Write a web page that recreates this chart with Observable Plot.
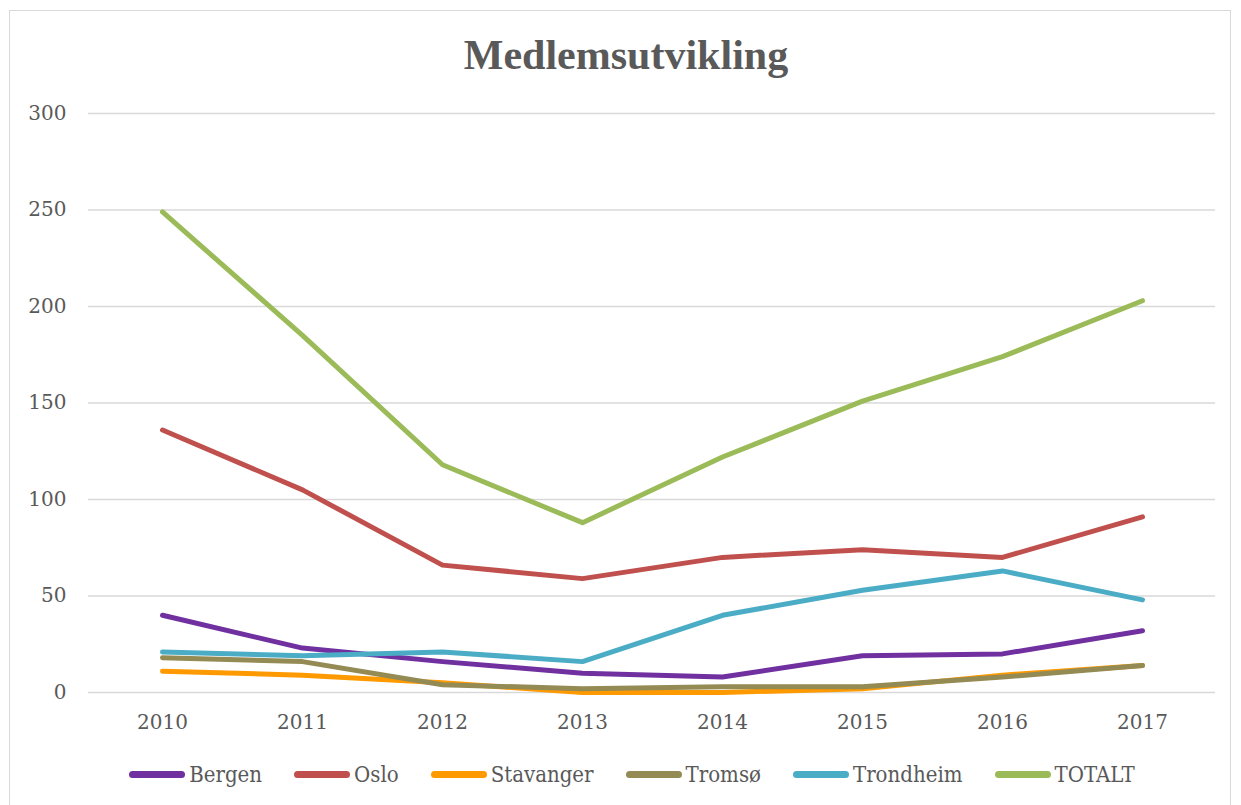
<!DOCTYPE html>
<html>
<head>
<meta charset="utf-8">
<script src="https://cdn.jsdelivr.net/npm/d3@7"></script>
<script src="https://cdn.jsdelivr.net/npm/@observablehq/plot@0.6"></script>
<style>
  html, body { margin: 0; padding: 0; background: #fff; }
  #frame {
    position: absolute; left: 9px; top: 10px; width: 1222px; height: 800px;
    border: 1.5px solid #d9d9d9; box-sizing: border-box; background: #fff;
  }
  #title {
    position: absolute; left: 0; top: 31px; width: 1252px; text-align: center;
    font-family: "Liberation Serif", serif; font-weight: bold; font-size: 42px; color: #595959;
  }
  #chart { position: absolute; left: 0; top: 100px; }
  #legend {
    position: absolute; left: 0; top: 762px; width: 1264px;
    display: flex; justify-content: center; gap: 32px;
    font-family: "DejaVu Serif Condensed", "DejaVu Serif", serif; font-stretch: condensed; font-size: 22px; color: #595959;
  }
  .item { display: flex; align-items: center; gap: 4px; }
  .sw { width: 56px; height: 7px; border-radius: 3.5px; }
</style>
</head>
<body>
<div id="frame"></div>
<div id="title">Medlemsutvikling</div>
<div id="chart"></div>
<div id="legend"></div>
<script>
const years = [2010, 2011, 2012, 2013, 2014, 2015, 2016, 2017];
const seriesNames = ["Bergen", "Oslo", "Stavanger", "Tromsø", "Trondheim", "TOTALT"];
const colors = ["#7030a0", "#c0504d", "#ff9900", "#948a54", "#4bacc6", "#9bbb59"];
const bergen    = [40, 23, 16, 10, 8, 19, 20, 32];
const oslo      = [136, 105, 66, 59, 70, 74, 70, 91];
const stavanger = [11, 9, 5, 0, 0, 2, 9, 14];
const tromso    = [18, 16, 4, 2, 3, 3, 8, 14];
const trondheim = [21, 19, 21, 16, 40, 53, 63, 48];
const totalt    = [249, 185, 118, 88, 122, 151, 174, 203];
const yTicks = [0, 50, 100, 150, 200, 250, 300];

const seriesValues = [bergen, oslo, stavanger, tromso, trondheim, totalt];
const data = [];
seriesNames.forEach((name, i) => {
  years.forEach((yr, j) => data.push({series: name, year: String(yr), value: seriesValues[i][j]}));
});

const chart = Plot.plot({
  width: 1241,
  height: 650,
  marginTop: 13,
  marginBottom: 58,
  marginLeft: 88,
  marginRight: 26,
  style: {fontFamily: "DejaVu Serif, serif", background: "transparent"},
  x: {type: "point", domain: years.map(String), padding: 0.5},
  y: {domain: [0, 300]},
  color: {domain: seriesNames, range: colors},
  marks: [
    Plot.gridY(yTicks, {stroke: "#d9d9d9", strokeOpacity: 1, strokeWidth: 1.5}),
    Plot.axisY(yTicks, {tickSize: 0, tickPadding: 22, fontSize: 20, fill: "#595959", label: null}),
    Plot.axisX(years.map(String), {tickSize: 0, tickPadding: 22, fontSize: 20, fill: "#595959", label: null}),
    Plot.line(data, {x: "year", y: "value", z: "series", stroke: "series",
      strokeWidth: 5, strokeLinecap: "round", strokeLinejoin: "round"})
  ]
});
document.getElementById("chart").appendChild(chart);

const legend = document.getElementById("legend");
seriesNames.forEach((name, i) => {
  const it = document.createElement("div");
  it.className = "item";
  const sw = document.createElement("div");
  sw.className = "sw";
  sw.style.background = colors[i];
  const t = document.createElement("span");
  t.textContent = name;
  it.appendChild(sw); it.appendChild(t);
  legend.appendChild(it);
});
</script>
</body>
</html>
